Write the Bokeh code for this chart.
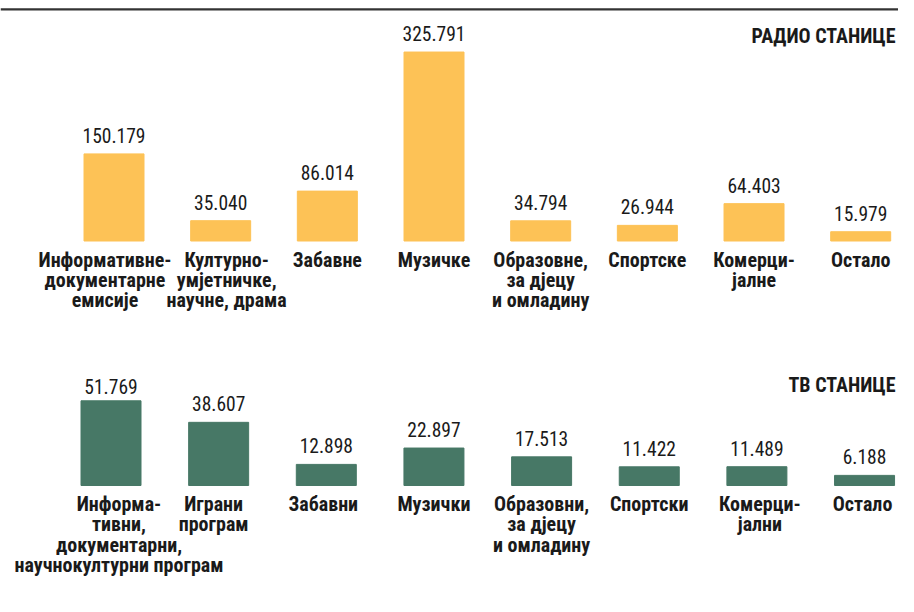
from bokeh.plotting import figure
from bokeh.models import ColumnDataSource, Range1d, Span, Label
from bokeh.layouts import column
from bokeh.embed import file_html
from bokeh.resources import INLINE
from bokeh.core.properties import value

# ---- data ----
radio_labels = ["Информативне-\nдокументарне\nемисије", "Културно-\nумјетничке,\nнаучне, драма",
                "Забавне", "Музичке", "Образовне,\nза дјецу\nи омладину", "Спортске",
                "Комерци-\nјалне", "Остало"]
radio_values = [150.179, 35.040, 86.014, 325.791, 34.794, 26.944, 64.403, 15.979]
radio_text = ["150.179", "35.040", "86.014", "325.791", "34.794", "26.944", "64.403", "15.979"]

tv_labels = ["Информа-\nтивни,\nдокументарни,\nнаучнокултурни програм", "Играни\nпрограм",
             "Забавни", "Музички", "Образовни,\nза дјецу\nи омладину", "Спортски",
             "Комерци-\nјални", "Остало"]
tv_values = [51.769, 38.607, 12.898, 22.897, 17.513, 11.422, 11.489, 6.188]
tv_text = ["51.769", "38.607", "12.898", "22.897", "17.513", "11.422", "11.489", "6.188"]

radio_title = "РАДИО СТАНИЦЕ"
tv_title = "ТВ СТАНИЦЕ"

# ---- styles ----
W = 898
TOP_H = 343
BOT_H = 253
FONT = "Roboto Condensed"
YELLOW = "#FDC256"
GREEN = "#477866"
TXT = "#1a1a1a"
radio_nudge = [-9, 6, 0, 0, 0, 0, 0, 0]
tv_nudge = [8, -5, -3, 0, 0, 0, 3, -2]
radio_vgap = [-18.5] * 8
tv_vgap = [-14.5, -18.5, -18.5, -18.5, -18.5, -18.5, -18.5, -18.5]


def panel(labels, values, texts, title, color, height, base_px, px_per_unit,
          first_px, spacing_px, nudge, vgap, title_y, top_line_px=None):
    idx = list(range(len(values)))
    src = ColumnDataSource(dict(x=idx, top=values, vt=texts, lab=labels, nudge=nudge, vgap=vgap))
    y_end = base_px / px_per_unit
    y_start = -(height - base_px) / px_per_unit
    x_start = -first_px / spacing_px
    x_end = x_start + W / spacing_px
    p = figure(width=W, height=height, output_backend="svg", toolbar_location=None,
               x_range=Range1d(x_start, x_end), y_range=Range1d(y_start, y_end),
               min_border=0, min_border_left=0, min_border_right=0,
               min_border_top=0, min_border_bottom=0)
    p.axis.visible = False
    p.grid.visible = False
    p.outline_line_color = None
    p.background_fill_color = "white"
    p.border_fill_color = "white"
    p.vbar(x="x", top="top", bottom=0, width=60 / spacing_px, color=color, source=src)
    p.text(x="x", y="top", text="vt", source=src, text_align="center",
           text_baseline="alphabetic", y_offset="vgap", text_font=value(FONT),
           text_font_size="19.5px", text_color=TXT)
    p.text(x="x", y=0, text="lab", source=src, text_align="center",
           text_baseline="top", x_offset="nudge", y_offset=6.5, text_font=value(FONT),
           text_font_size="20px", text_font_style="bold", text_color=TXT,
           text_line_height=0.85)
    p.add_layout(Label(x=W - 3, y=height - title_y + 8.5, x_units="screen", y_units="screen",
                       text=title, text_align="right", text_baseline="alphabetic",
                       text_font=FONT, text_font_size="20px", text_font_style="bold",
                       text_color=TXT))
    if top_line_px is not None:
        p.add_layout(Span(location=(base_px - top_line_px) / px_per_unit, dimension="width",
                          line_color="#333333", line_width=2.2))
    return p


top = panel(radio_labels, radio_values, radio_text, radio_title, YELLOW,
            TOP_H, 240.5, 0.580, 113.5, 106.67, radio_nudge, radio_vgap, 43.8, top_line_px=8.8)
bottom = panel(tv_labels, tv_values, tv_text, tv_title, GREEN,
               BOT_H, 142.0, 1.636, 110.5, 107.65, tv_nudge, tv_vgap, 49.5)

layout = column(top, bottom, spacing=0)
open("out.html", "w").write(file_html(layout, INLINE))
